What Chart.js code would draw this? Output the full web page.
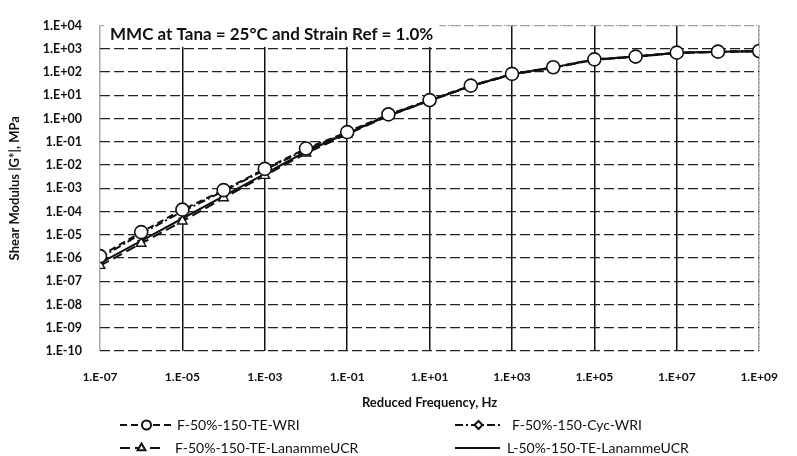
<!DOCTYPE html>
<html>
<head>
<meta charset="utf-8">
<script src="https://cdn.jsdelivr.net/npm/chart.js@4.4.1/dist/chart.umd.min.js"></script>
<style>
  body { margin: 0; background: #fff; }
</style>
</head>
<body>
<canvas id="mmc-chart" width="797" height="456"></canvas>
<script>
// reduced frequency, Hz (one point per decade)
var frequency = [1e-7, 1e-6, 1e-5, 1e-4, 1e-3, 1e-2, 1e-1, 1, 10, 100, 1e3, 1e4, 1e5, 1e6, 1e7, 1e8, 1e9];

// shear modulus |G*|, MPa
var teWRI      = [1.2e-6, 1.3e-5, 1.2e-4, 8.3e-4, 6.8e-3, 0.051, 0.26, 1.5, 6.2, 26, 83, 160, 350, 460, 680, 750, 800];
var cycWRI     = [1.0e-6, 1.1e-5, 1.0e-4, 7.5e-4, 6.2e-3, 0.046, 0.24, 1.4, 6.0, 25, 80, 155, 330, 450, 660, 740, 790];
var teLanammeF = [4.7e-7, 4.2e-6, 3.8e-5, 3.8e-4, 3.5e-3, 0.032, 0.21, 1.3, 5.8, 24, 78, 150, 340, 470, 650, 730, 780];
var teLanammeL = [6.0e-7, 5.5e-6, 5.0e-5, 4.6e-4, 4.2e-3, 0.038, 0.23, 1.35, 5.9, 25, 80, 158, 345, 465, 670, 745, 790];

// tick labels
var xTicks = [1e-7, 1e-5, 1e-3, 1e-1, 10, 1e3, 1e5, 1e7, 1e9];
var yTicks = [1e-10, 1e-9, 1e-8, 1e-7, 1e-6, 1e-5, 1e-4, 1e-3, 1e-2, 1e-1, 1, 10, 100, 1e3, 1e4];

var seriesNames = ['F-50%-150-TE-WRI', 'F-50%-150-Cyc-WRI', 'F-50%-150-TE-LanammeUCR', 'L-50%-150-TE-LanammeUCR'];

function pts(arr) {
  return frequency.map(function (f, i) { return { x: f, y: arr[i] }; });
}

// excel style 1.E+04
function sciLabel(v) {
  var e = Math.round(Math.log10(v));
  return '1.E' + (e < 0 ? '-' : '+') + String(Math.abs(e)).padStart(2, '0');
}

var FONT = 'Lato, "Open Sans", sans-serif';

var datasets = [
  { label: seriesNames[0], data: pts(teWRI), borderColor: '#111', borderWidth: 2, borderDash: [7, 4],
    pointStyle: 'circle', pointRadius: 6.5, pointBackgroundColor: '#fff', pointBorderColor: '#111', pointBorderWidth: 1.6 },
  { label: seriesNames[1], data: pts(cycWRI), borderColor: '#111', borderWidth: 2, borderDash: [8, 3, 2, 3],
    pointStyle: 'rectRot', pointRadius: 4, pointBackgroundColor: '#fff', pointBorderColor: '#111', pointBorderWidth: 1.4 },
  { label: seriesNames[2], data: pts(teLanammeF), borderColor: '#111', borderWidth: 2, borderDash: [10, 5],
    pointStyle: 'triangle', pointRadius: 5.5, pointBackgroundColor: '#fff', pointBorderColor: '#111', pointBorderWidth: 1.4 },
  { label: seriesNames[3], data: pts(teLanammeL), borderColor: '#111', borderWidth: 2,
    pointStyle: 'line', pointRadius: 4, pointBorderColor: '#111', pointBorderWidth: 2 }
];

// legend slots: [sample x1, sample x2, text x, row y]
var legendSlots = [[120, 173, 177, 425], [455, 502, 512, 425], [120, 163, 175, 448], [455, 500, 507, 448]];

var extras = {
  id: 'extras',
  afterDraw: function (chart) {
    var ctx = chart.ctx, a = chart.chartArea;
    ctx.save();
    // light dotted frame on top / right
    ctx.strokeStyle = '#888';
    ctx.lineWidth = 1;
    ctx.setLineDash([1, 3]);
    ctx.beginPath();
    ctx.moveTo(a.left, a.top); ctx.lineTo(a.right, a.top); ctx.lineTo(a.right, a.bottom);
    ctx.stroke();
    ctx.setLineDash([]);

    // title inside plot
    ctx.font = 'bold 17px ' + FONT;
    var t = 'MMC at Tana = 25°C and Strain Ref = 1.0%';
    var w = ctx.measureText(t).width;
    ctx.fillStyle = '#fff';
    ctx.fillRect(104, 25, w + 12, 22);
    ctx.fillStyle = '#111';
    ctx.textBaseline = 'middle';
    ctx.textAlign = 'left';
    ctx.fillText(t, 110, 35);

    // axis titles
    ctx.font = 'bold 13px ' + FONT;
    ctx.textAlign = 'center';
    ctx.fillText('Reduced Frequency, Hz', (a.left + a.right) / 2, 403);
    ctx.save();
    ctx.translate(15, (a.top + a.bottom) / 2);
    ctx.rotate(-Math.PI / 2);
    ctx.fillText('Shear Modulus |G*|, MPa', 0, 0);
    ctx.restore();

    // legend
    ctx.font = '14px ' + FONT;
    ctx.textAlign = 'left';
    chart.data.datasets.forEach(function (ds, i) {
      var s = legendSlots[i];
      ctx.strokeStyle = ds.borderColor;
      ctx.lineWidth = ds.borderWidth;
      ctx.setLineDash(ds.borderDash || []);
      ctx.beginPath();
      ctx.moveTo(s[0], s[3]); ctx.lineTo(s[1], s[3]);
      ctx.stroke();
      ctx.setLineDash([]);
      ctx.fillStyle = ds.pointBackgroundColor || '#fff';
      Chart.helpers.drawPoint(ctx, {
        pointStyle: ds.pointStyle, radius: Math.min(ds.pointRadius, 4.5),
        rotation: 0, borderWidth: ds.pointBorderWidth
      }, (s[0] + s[1]) / 2, s[3]);
      ctx.fillStyle = '#111';
      ctx.fillText(ds.label, s[2], s[3]);
    });
    ctx.restore();
  }
};

new Chart(document.getElementById('mmc-chart'), {
  type: 'scatter',
  data: { datasets: datasets },
  plugins: [extras],
  options: {
    responsive: false,
    animation: false,
    showLine: true,
    layout: { padding: { left: 0, right: 20, top: 15, bottom: 0 } },
    plugins: { legend: { display: false }, tooltip: { enabled: false } },
    scales: {
      x: {
        type: 'logarithmic',
        min: 1e-7, max: 1e9,
        afterBuildTicks: function (s) { s.ticks = xTicks.map(function (v) { return { value: v }; }); },
        afterFit: function (s) { s.height = 105; },
        grid: {
          drawTicks: false,
          lineWidth: 1.5,
          color: function (c) { return (c.index === 0 || c.index === xTicks.length - 1) ? '#aaa' : '#111'; }
        },
        border: { display: false },
        ticks: {
          autoSkip: false, maxRotation: 0, padding: 19,
          color: '#111', font: { family: FONT, size: 12, weight: 'bold' },
          callback: function (v) { return sciLabel(v); }
        }
      },
      y: {
        type: 'logarithmic',
        min: 1e-10, max: 1e4,
        afterBuildTicks: function (s) { s.ticks = yTicks.map(function (v) { return { value: v }; }); },
        afterFit: function (s) { s.width = 100; },
        grid: {
          drawTicks: false,
          lineWidth: 1.3,
          color: function (c) { return c.index === yTicks.length - 1 ? '#aaa' : '#222'; }
        },
        border: { display: false, dash: [10, 4] },
        ticks: {
          padding: 18,
          color: '#111', font: { family: FONT, size: 12.5, weight: 'bold' },
          callback: function (v) { return sciLabel(v); }
        }
      }
    }
  }
});
</script>
</body>
</html>
